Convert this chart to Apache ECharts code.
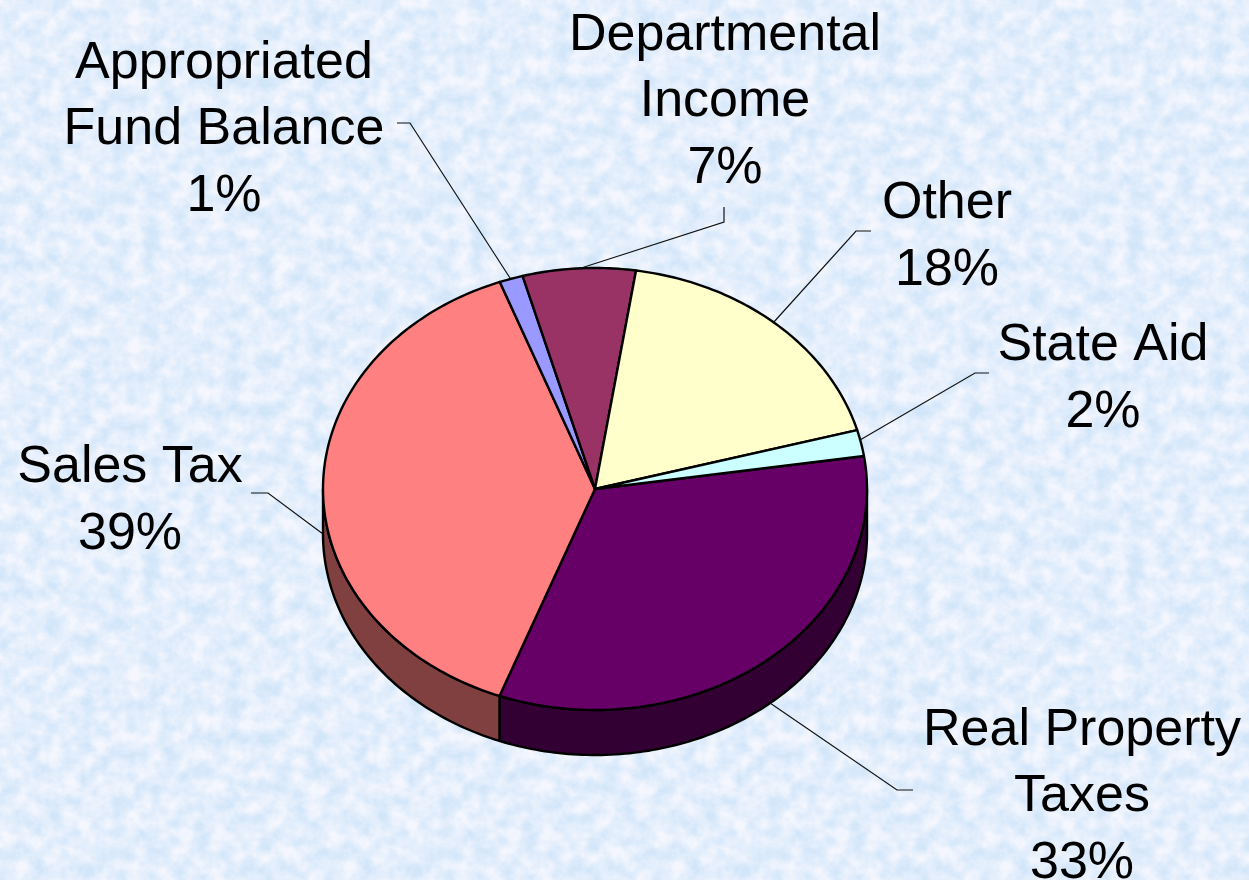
<!DOCTYPE html>
<html>
<head>
<meta charset="utf-8">
<script src="https://cdn.jsdelivr.net/npm/echarts@6/dist/echarts.min.js"></script>
<style>
html,body{margin:0;padding:0;width:1249px;height:880px;overflow:hidden;background-color:#d8e9fb;}
#bg{position:absolute;left:0;top:0;width:1249px;height:880px;background-size:328px 328px;background-position:275px -56px;}
#main{position:absolute;left:0;top:0;width:1249px;height:880px;}
</style>
</head>
<body>
<div id="bg"></div>
<div id="main"></div>
<script>
// ----- chart data -----
const categories = ['Real Property\nTaxes', 'Sales Tax', 'Appropriated\nFund Balance', 'Departmental\nIncome', 'Other', 'State Aid'];
const shareValues = [33.1, 38.6, 1.4, 6.7, 18.3, 1.9];
const topColors = ['#660066', '#ff8080', '#9999ff', '#993366', '#ffffcc', '#ccffff'];
const wallColors = ['#330033', '#804040', '#4d4d80', '#4d1a33', '#808066', '#668080'];

// ----- layout only -----
const pie = {cx: 595, cy: 489, rx: 272, ry: 221, depth: 45, startDeg: -8.6};
const labelCentres = [[1082, 797], [130, 501], [224, 130], [725, 102], [947, 237], [1103, 379]];
const leaderPaths = [
  [[913, 790], [897, 790], [770, 703]],
  [[251, 493], [268, 493], [323, 534]],
  [[397, 123], [410, 123], [510, 278]],
  [[724, 207], [724, 222], [578, 269]],
  [[871, 231], [856, 231], [773, 323]],
  [[989, 373], [975, 373], [860, 440]]
];

// tiled paper-like texture behind the chart
const noise = "<svg xmlns='http://www.w3.org/2000/svg' width='328' height='328'>" +
  "<filter id='n' x='0' y='0' width='100%' height='100%'>" +
  "<feTurbulence type='fractalNoise' baseFrequency='0.06' numOctaves='5' seed='11' stitchTiles='stitch'/>" +
  "<feColorMatrix type='matrix' values='0 0 0 0 0.92  0 0 0 0 0.93  0 0 0 0 0.99  1.7 0 0 0 -0.35'/>" +
  "</filter><rect width='328' height='328' fill='#d2e6fa'/><rect width='328' height='328' filter='url(#n)'/></svg>";
document.getElementById('bg').style.backgroundImage = 'url("data:image/svg+xml,' + encodeURIComponent(noise) + '")';

const total = shareValues.reduce((a, b) => a + b, 0);
const startAngles = [];
shareValues.reduce((acc, v, i) => { startAngles[i] = acc; return acc + v / total * 360; }, pie.startDeg);

function ellipsePoint(deg, dy) {
  const a = deg * Math.PI / 180;
  return [pie.cx + pie.rx * Math.cos(a), pie.cy + pie.ry * Math.sin(a) + dy];
}
function arcPoints(a0, a1, dy) {
  const pts = [];
  const n = Math.max(2, Math.ceil(Math.abs(a1 - a0)));
  for (let k = 0; k <= n; k++) pts.push(ellipsePoint(a0 + (a1 - a0) * k / n, dy));
  return pts;
}
function renderItem(params, api) {
  const i = params.dataIndex;
  const a0 = startAngles[i];
  const a1 = a0 + api.value(0) / total * 360;
  const children = [];
  // visible side wall lies on the front half of the ellipse only
  const w0 = Math.max(a0, 0), w1 = Math.min(a1, 180);
  if (w1 > w0) {
    children.push({
      type: 'polygon',
      shape: {points: arcPoints(w0, w1, 0).concat(arcPoints(w1, w0, pie.depth))},
      style: {fill: wallColors[i], stroke: '#000', lineWidth: 2.4, lineJoin: 'round'}
    });
  }
  children.push({
    type: 'polygon',
    shape: {points: [[pie.cx, pie.cy]].concat(arcPoints(a0, a1, 0))},
    style: {fill: topColors[i], stroke: '#000', lineWidth: 2.4, lineJoin: 'round'}
  });
  children.push({
    type: 'polyline',
    shape: {points: leaderPaths[i]},
    style: {fill: 'none', stroke: '#111', lineWidth: 1.2}
  });
  children.push({
    type: 'text',
    style: {
      x: labelCentres[i][0], y: labelCentres[i][1],
      text: categories[i] + '\n' + Math.round(api.value(0) / total * 100) + '%',
      align: 'center', verticalAlign: 'middle',
      font: '52px "Liberation Sans", Arial, sans-serif',
      lineHeight: 66.5, fill: '#000'
    }
  });
  return {type: 'group', children: children};
}

const chart = echarts.init(document.getElementById('main'), null, {renderer: 'canvas'});
chart.setOption({
  backgroundColor: 'transparent',
  animation: false,
  series: [{
    type: 'custom',
    coordinateSystem: 'none',
    renderItem: renderItem,
    silent: true,
    data: shareValues.map((v, i) => ({name: categories[i], value: [v]}))
  }]
});
</script>
</body>
</html>
